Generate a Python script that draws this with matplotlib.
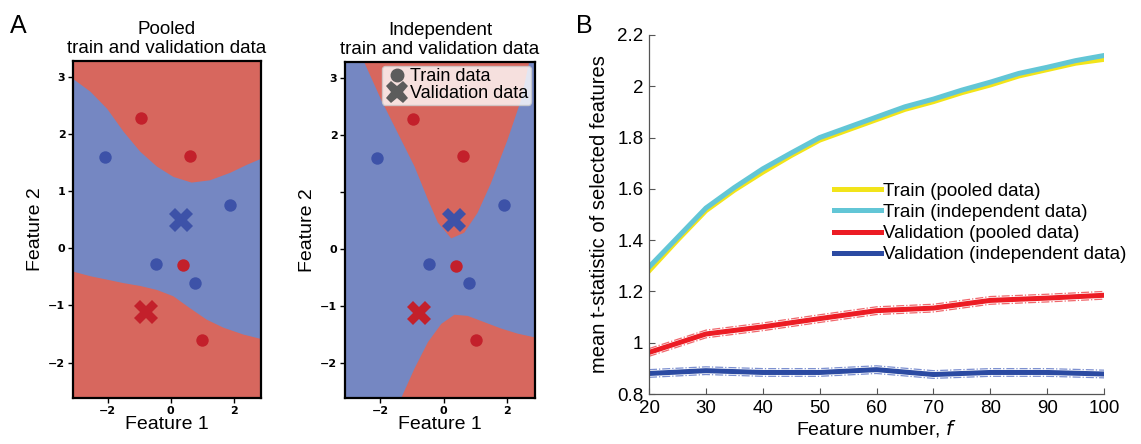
import matplotlib
matplotlib.use('Agg')
import matplotlib.pyplot as plt
import numpy as np
from matplotlib.lines import Line2D

# ---- panel A data ----
red_train_x = [-0.95, 0.6, 0.4, 1.0]
red_train_y = [2.28, 1.62, -0.3, -1.6]
blue_train_x = [-2.1, 1.88, -0.45, 0.78]
blue_train_y = [1.6, 0.76, -0.27, -0.6]
red_val = (-0.77, -1.12)
blue_val = (0.32, 0.5)

# pooled decision boundaries
pool_x = [-3.1, -2.56, -2.03, -1.51, -0.98, -0.45, 0.07, 0.65, 1.23, 1.87, 2.4, 2.87]
pool_upper = [2.97, 2.75, 2.45, 2.05, 1.70, 1.44, 1.26, 1.16, 1.20, 1.33, 1.47, 1.58]
pool_lower_x = [-3.1, -2.56, -2.03, -1.51, -0.98, -0.45, 0.07, 0.6, 1.13, 1.66, 2.29, 2.87]
pool_lower = [-0.40, -0.48, -0.54, -0.60, -0.65, -0.72, -0.83, -1.04, -1.24, -1.38, -1.50, -1.58]

# independent decision boundaries
ind_top_x = [-2.51, -1.97, -1.45, -0.93, -0.51, -0.2, 0.22, 0.63, 1.05, 1.47, 1.99, 2.41, 2.67]
ind_top_y = [3.28, 2.61, 2.03, 1.45, 0.87, 0.47, 0.19, 0.29, 0.64, 1.16, 1.92, 2.61, 3.28]
ind_bot_x = [-1.34, -0.93, -0.51, -0.09, 0.32, 0.74, 1.26, 1.78, 2.3, 2.87]
ind_bot_y = [-2.6, -2.09, -1.63, -1.31, -1.15, -1.17, -1.28, -1.39, -1.48, -1.55]

# ---- panel B data ----
feat_train = [20, 25, 30, 35, 40, 45, 50, 55, 60, 65, 70, 75, 80, 85, 90, 95, 100]
train_pooled = [1.28, 1.40, 1.515, 1.595, 1.665, 1.73, 1.79, 1.83, 1.87, 1.91, 1.94, 1.975, 2.005, 2.04, 2.065, 2.09, 2.105]
train_indep = [1.295, 1.41, 1.525, 1.605, 1.678, 1.74, 1.80, 1.84, 1.88, 1.92, 1.95, 1.985, 2.016, 2.05, 2.074, 2.10, 2.12]
feat_val = [20, 30, 40, 50, 60, 70, 80, 90, 100]
val_pooled = [0.962, 1.034, 1.062, 1.094, 1.125, 1.135, 1.165, 1.174, 1.185]
val_indep = [0.880, 0.891, 0.884, 0.884, 0.895, 0.876, 0.884, 0.884, 0.878]
val_band = 0.015

RED_BG = '#d7675e'
BLUE_BG = '#7587c2'
RED_PT = '#c3202b'
BLUE_PT = '#3d52a8'

sans = ['Liberation Sans', 'DejaVu Sans']

fig = plt.figure(figsize=(11.41, 4.44), dpi=100)
ax1 = fig.add_axes([0.064, 0.1036, 0.1648, 0.759])
ax2 = fig.add_axes([0.3024, 0.1036, 0.1665, 0.757])
ax3 = fig.add_axes([0.5688, 0.1126, 0.3988, 0.8086])

xlim = (-3.1, 2.87)
ylim = (-2.62, 3.28)


def style_a(ax, title):
    ax.set_xlim(*xlim)
    ax.set_ylim(*ylim)
    ax.set_xticks([-2, 0, 2])
    ax.set_xticklabels(['\u22122', '0', '2'], fontsize=8, fontweight='bold')
    ax.set_yticks([3, 2, 1, 0, -1, -2])
    for s in ax.spines.values():
        s.set_linewidth(1.6)
        s.set_zorder(10)
    ax.tick_params(length=3.5, width=1.0, pad=2)
    ax.set_title(title, fontsize=13.5, family=sans, pad=6, linespacing=1.1)
    ax.set_xlabel('Feature 1', fontsize=14, family=sans, labelpad=0)
    ax.set_ylabel('Feature 2', fontsize=14, family=sans, labelpad=3)


def points(ax):
    ax.scatter(red_train_x, red_train_y, s=80, color=RED_PT, zorder=5, linewidths=0)
    ax.scatter(blue_train_x, blue_train_y, s=80, color=BLUE_PT, zorder=5, linewidths=0)
    ax.plot(*red_val, marker='X', markersize=17, color=RED_PT, mew=0, zorder=5)
    ax.plot(*blue_val, marker='X', markersize=17, color=BLUE_PT, mew=0, zorder=5)


# pooled panel
ax1.set_facecolor(BLUE_BG)
ax1.fill_between(pool_x, pool_upper, ylim[1], color=RED_BG, lw=0)
ax1.fill_between(pool_lower_x, ylim[0], pool_lower, color=RED_BG, lw=0)
points(ax1)
style_a(ax1, 'Pooled\ntrain and validation data')
ax1.set_yticklabels(['3', '2', '1', '0', '\u22121', '\u22122'], fontsize=8, fontweight='bold')

# independent panel
ax2.set_facecolor(BLUE_BG)
ax2.fill_between(ind_top_x, ind_top_y, ylim[1], color=RED_BG, lw=0)
ax2.fill_between(ind_bot_x, ylim[0], ind_bot_y, color=RED_BG, lw=0)
points(ax2)
style_a(ax2, 'Independent\ntrain and validation data')
ax2.set_yticklabels(['3', '2', '', '0', '\u22121', '\u22122'], fontsize=8, fontweight='bold')
handles = [Line2D([], [], ls='none', marker='o', color='#5c5c5c', markersize=9),
           Line2D([], [], ls='none', marker='X', color='#5c5c5c', markersize=16, mew=0)]
leg = ax2.legend(handles, ['Train data', 'Validation data'], loc='upper right',
                 prop={'family': sans, 'size': 13}, handletextpad=0.05,
                 borderpad=0.15, labelspacing=0.0, borderaxespad=0.2,
                 handlelength=1.4, framealpha=0.8, fancybox=True)
leg.set_zorder(20)

# panel B
band_kw = dict(ls='-.', lw=0.9)
ax3.plot(feat_val, np.array(val_pooled) + val_band, color='#f0686d', **band_kw)
ax3.plot(feat_val, np.array(val_pooled) - val_band, color='#f0686d', **band_kw)
ax3.plot(feat_val, np.array(val_indep) + val_band, color='#7d90d0', **band_kw)
ax3.plot(feat_val, np.array(val_indep) - val_band, color='#7d90d0', **band_kw)
ax3.plot(feat_train, train_pooled, color='#f2e41a', lw=3.6, label='Train (pooled data)')
ax3.plot(feat_train, train_indep, color='#62c6d6', lw=3.6, label='Train (independent data)')
ax3.plot(feat_val, val_pooled, color='#ec1c24', lw=3.6, label='Validation (pooled data)')
ax3.plot(feat_val, val_indep, color='#2b4aa2', lw=3.6, label='Validation (independent data)')

ax3.set_xlim(20, 100)
ax3.set_ylim(0.8, 2.2)
ax3.set_xticks(range(20, 101, 10))
ax3.set_yticks([0.8, 1, 1.2, 1.4, 1.6, 1.8, 2, 2.2])
ax3.set_yticklabels(['0.8', '1', '1.2', '1.4', '1.6', '1.8', '2', '2.2'])
for s in ['top', 'right']:
    ax3.spines[s].set_visible(False)
for s in ['left', 'bottom']:
    ax3.spines[s].set_color('#555555')
    ax3.spines[s].set_linewidth(0.9)
ax3.tick_params(direction='in', length=4, color='#555555', labelsize=13.5, pad=4)
for lab in ax3.get_xticklabels() + ax3.get_yticklabels():
    lab.set_family(sans)
ax3.set_xlabel('Feature number, $\\it{f}$', fontsize=14, family=sans, labelpad=1)
ax3.set_ylabel('mean t-statistic of selected features', fontsize=14.5, family=sans, labelpad=6)
ax3.legend(loc='upper left', bbox_to_anchor=(0.39, 0.61), frameon=False,
           prop={'family': sans, 'size': 13.5}, handlelength=2.5, handletextpad=0.1,
           labelspacing=0.22, borderaxespad=0)

fig.text(0.009, 0.925, 'A', fontsize=18, family=sans)
fig.text(0.505, 0.925, 'B', fontsize=18, family=sans)

fig.savefig('out.png', dpi=100)
